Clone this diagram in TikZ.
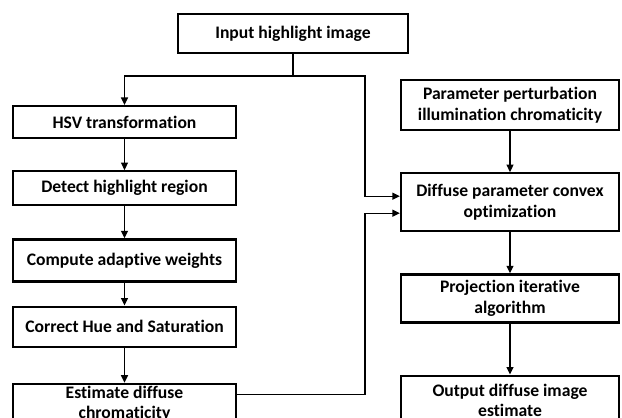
\documentclass[tikz,border=0pt]{standalone}
\usepackage{fontspec}
\setmainfont{Carlito}[Ligatures=NoCommon]
\usepackage{tikz}
\usetikzlibrary{positioning, arrows.meta}

\begin{document}
\begin{tikzpicture}[
 x=1pt, y=1pt,
 step_box/.style={rectangle, draw=black, fill=white, line width=2.2pt,
   inner sep=2pt, align=center, font=\fontsize{17.6}{20.5}\selectfont\bfseries},
 left_box/.style={step_box, minimum width=223pt},
 right_box/.style={step_box, minimum width=218pt},
 flow_edge/.style={-{Triangle[length=7.5pt, width=7pt]}, line width=1.3pt, draw=black},
 plain_edge/.style={line width=1.3pt, draw=black}
]
\useasboundingbox (0,0) rectangle (622,-418);
\clip (0,0) rectangle (622,-418);
% left column
\node[step_box, minimum width=230pt, minimum height=39pt] (input) at (293,-33.5) {Input highlight image};
\node[left_box, minimum height=32pt] (hsv) at (124.5,-122) {HSV transformation};
\node[left_box, minimum height=34pt] (detect) [below=31pt of hsv] {Detect highlight region};
\node[left_box, minimum height=42pt] (compute) [below=32pt of detect] {Compute adaptive weights};
\node[left_box, minimum height=40pt] (correct) [below=23pt of compute] {Correct Hue and Saturation};
\node[left_box, minimum height=40pt] (estimate) [below=35pt of correct] {Estimate diffuse\\chromaticity};
% right column
\node[right_box, minimum height=50pt] (param) at (510,-105) {Parameter perturbation\\illumination chromaticity};
\node[right_box, minimum height=58pt] (diffuse) [below=41pt of param] {Diffuse parameter convex\\optimization};
\node[right_box, minimum height=48pt] (proj) [below=41pt of diffuse] {Projection iterative\\algorithm};
\node[right_box, minimum height=50pt] (output) [below=51pt of proj] {Output diffuse image\\estimate};
% helper points
\coordinate (mid_y) at (0,-76);
\coordinate (mid_x) at (365,0);
\coordinate (diff_in_a) at ([yshift=6pt]diffuse.west);
\coordinate (diff_in_b) at ([yshift=-11pt]diffuse.west);
\coordinate (est_out) at ([yshift=9pt]estimate.east);
% connectors
\draw[plain_edge] (input.south) -- (input.south |- mid_y);
\draw[flow_edge] (input.south |- mid_y) -| (hsv.north);
\draw[flow_edge] (input.south |- mid_y) -- (mid_x |- mid_y) |- (diff_in_a);
\draw[flow_edge] (est_out) -- (mid_x |- est_out) |- (diff_in_b);
\foreach \a/\b in {hsv/detect, detect/compute, compute/correct, correct/estimate,
  param/diffuse, diffuse/proj, proj/output}
  \draw[flow_edge] (\a.south) -- (\b.north);
\end{tikzpicture}
\end{document}
